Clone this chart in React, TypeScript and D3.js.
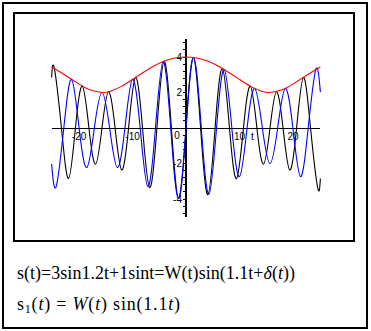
import React from 'react';
import * as d3 from 'd3';

// s(t) = 3 sin 1.2t + sin t, read at its zeros and peaks
const blackT = [-25.13, -24.62, -23.29, -21.97, -20.68, -19.4, -18.15, -16.92, -15.71, -14.49, -13.26, -12.02, -10.74, -9.44, -8.13, -6.79, -5.44, -4.09, -2.73, -1.37, 0, 1.37, 2.73, 4.09, 5.44, 6.79, 8.13, 9.44, 10.74, 12.02, 13.26, 14.49, 15.71, 16.92, 18.15, 19.4, 20.68, 21.97, 23.29, 24.62, 25.13];
const blackS = [2.85, 3.36, 0, -2.85, 0, 2.36, 0, -2.04, 0, 2.04, 0, -2.36, 0, 2.85, 0, -3.36, 0, 3.76, 0, -3.97, 0, 3.97, 0, -3.76, 0, 3.36, 0, -2.85, 0, 2.36, 0, -2.04, 0, 2.04, 0, -2.36, 0, 2.85, 0, -3.36, -2.85];

// s1(t) = W(t) sin(1.1t)
const blueT = [-25.13, -24.28, -22.85, -21.42, -19.99, -18.56, -17.14, -15.71, -14.28, -12.85, -11.42, -10.0, -8.57, -7.14, -5.71, -4.28, -2.86, -1.43, 0, 1.43, 2.86, 4.28, 5.71, 7.14, 8.57, 10.0, 11.42, 12.85, 14.28, 15.71, 17.14, 18.56, 19.99, 21.42, 22.85, 24.28, 25.13];
const blueS = [-2.02, -3.3, 0, 2.74, 0, -2.23, 0, 2.0, 0, -2.23, 0, 2.74, 0, -3.3, 0, 3.73, 0, -3.97, 0, 3.97, 0, -3.73, 0, 3.3, 0, -2.74, 0, 2.23, 0, -2.0, 0, 2.23, 0, -2.74, 0, 3.3, 2.02];

// envelope W(t)
const redT = [-25.13, -24, -22, -20, -18, -15.71, -14, -12, -10, -8, -6, -4, -2, 0, 2, 4, 6, 8, 10, 12, 14, 15.71, 18, 20, 22, 24, 25.13];
const redW = [3.44, 3.24, 2.86, 2.47, 2.15, 2.0, 2.09, 2.36, 2.74, 3.13, 3.49, 3.77, 3.94, 4.0, 3.94, 3.77, 3.49, 3.13, 2.74, 2.36, 2.09, 2.0, 2.15, 2.47, 2.86, 3.24, 3.44];

const xTickLabels = [-20, -10, 10, 20];
const yTickLabels = [-4, -2, 2, 4];

export default function App() {
  const width = 371;
  const height = 331;
  const x = d3.scaleLinear().domain([-25.133, 25.133]).range([51.6, 320.4]);
  const y = d3.scaleLinear().domain([-5, 5]).range([216.75, 39.25]);

  const line = d3
    .line<[number, number]>()
    .x((d) => x(d[0]))
    .y((d) => y(d[1]))
    .curve(d3.curveNatural);

  const zip = (ts: number[], vs: number[]) => ts.map((t, i) => [t, vs[i]] as [number, number]);

  const minorY = d3.range(-12, 13).map((k) => k * 0.4);
  const sans = "'Liberation Sans', Arial, sans-serif";
  const serif = "'Liberation Serif', 'Times New Roman', serif";

  return (
    <svg
      width={width}
      height={height}
      style={{ position: 'absolute', left: 0, top: 0, background: '#fff' }}
    >
      <rect x={3} y={3} width={364} height={325} fill="none" stroke="#000" strokeWidth={2} shapeRendering="crispEdges" />
      <rect x={14} y={13} width={340} height={228} fill="none" stroke="#000" strokeWidth={2} shapeRendering="crispEdges" />

      {/* axes */}
      <line x1={x(-25.133)} x2={x(25.133)} y1={y(0)} y2={y(0)} stroke="#000" shapeRendering="crispEdges" />
      <line x1={x(0)} x2={x(0)} y1={y(5)} y2={y(-5)} stroke="#000" strokeWidth={1.5} shapeRendering="crispEdges" />
      {minorY.map((v) => (
        <line key={v} x1={x(0) - 3} x2={x(0)} y1={y(v)} y2={y(v)} stroke="#000" shapeRendering="crispEdges" />
      ))}
      {xTickLabels.map((v) => (
        <text key={v} x={x(v)} y={y(0) + 12} fontFamily={sans} fontSize={10} textAnchor="middle">
          {v}
        </text>
      ))}
      <text x={x(0) - 9} y={y(0) + 11} fontFamily={sans} fontSize={10} textAnchor="middle">0</text>
      <text x={x(12.4)} y={y(0) + 12} fontFamily={sans} fontSize={10} textAnchor="middle">t</text>
      {yTickLabels.map((v) => (
        <text key={v} x={x(0) - 4} y={y(v) + 3.5} fontFamily={sans} fontSize={10} textAnchor="end">
          {v}
        </text>
      ))}

      {/* curves */}
      <path d={line(zip(blackT, blackS)) || ''} fill="none" stroke="#000" strokeWidth={1.1} />
      <path d={line(zip(blueT, blueS)) || ''} fill="none" stroke="#0000ff" strokeWidth={1.1} />
      <path d={line(zip(redT, redW)) || ''} fill="none" stroke="#ff0000" strokeWidth={1.1} />

      {/* formulas */}
      <text x={17} y={279} fontFamily={serif} fontSize={18} textLength={278} lengthAdjust="spacing">
        s(t)=3sin1.2t+1sint=W(t)sin(1.1t+<tspan fontStyle="italic">δ</tspan>(<tspan fontStyle="italic">t</tspan>))
      </text>
      <text x={17} y={310} fontFamily={serif} fontSize={18} textLength={163} lengthAdjust="spacing">
        s<tspan fontSize={12} baselineShift="-3">1</tspan>(<tspan fontStyle="italic">t</tspan>) = <tspan fontStyle="italic">W</tspan>(<tspan fontStyle="italic">t</tspan>) sin(1.1<tspan fontStyle="italic">t</tspan>)
      </text>
    </svg>
  );
}
